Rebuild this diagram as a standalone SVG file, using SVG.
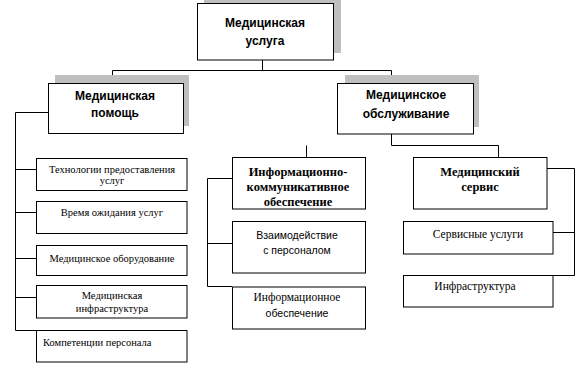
<svg xmlns="http://www.w3.org/2000/svg" width="581" height="380" viewBox="0 0 581 380">
<style>
.box{fill:#fff;stroke:#000;stroke-width:1}
.sh{fill:#bfbfbf}
.ln{fill:none;stroke:#000;stroke-width:1}
.hb{font-family:"Liberation Sans",Arial,sans-serif;font-weight:bold;font-size:12px;text-anchor:middle;dominant-baseline:central}
.sb{font-family:"Liberation Serif","DejaVu Serif",serif;font-weight:bold;font-size:12.5px;text-anchor:middle;dominant-baseline:central}
.s{font-family:"Liberation Serif","DejaVu Serif",serif;font-size:10.5px;text-anchor:middle;dominant-baseline:central}
.st{font-family:"Liberation Serif","DejaVu Serif",serif;font-size:10.5px;text-anchor:start;dominant-baseline:central}
.s11{font-family:"Liberation Serif","DejaVu Serif",serif;font-size:11.5px;text-anchor:middle;dominant-baseline:central}
.a{font-family:"Liberation Sans",Arial,sans-serif;font-size:10.5px;text-anchor:middle;dominant-baseline:central}
</style>
<rect width="581" height="380" fill="#fff"/>
<g id="connectors">
<path class="ln" d="M262.5,60 V70.5 M112.5,83 V70.5 H391.5 V83 M391.5,134 V145.5 H498.5 V157 M306.5,145.5 V157"/>
<path class="ln" d="M48,112.5 H15.5 V330.5 H36 M15.5,169.5 H36 M15.5,212.5 H36 M15.5,258.5 H36 M15.5,297.5 H36"/>
<path class="ln" d="M232,178.5 H207.5 V286.5 H232 M207.5,243.5 H232"/>
<path class="ln" d="M547,168.5 H574.5 V275.5 H553 M553,232.5 H574.5"/>
</g>
<g id="n-top">
<rect class="sh" x="204" y="-4" width="137" height="57"/>
<rect class="box" x="197.5" y="3.5" width="136" height="56.5"/>
<text class="hb" x="265" y="23">Медицинская</text>
<text class="hb" x="265" y="41">услуга</text>
</g>
<g id="n-help">
<rect class="sh" x="55" y="75" width="134" height="51"/>
<rect class="box" x="48.5" y="83.5" width="135" height="50"/>
<text class="hb" x="115" y="96">Медицинская</text>
<text class="hb" x="115" y="113">помощь</text>
</g>
<g id="n-serv">
<rect class="sh" x="345" y="75" width="134" height="52"/>
<rect class="box" x="337.5" y="83.5" width="136" height="50.5"/>
<text class="hb" x="406" y="95">Медицинское</text>
<text class="hb" x="406" y="114">обслуживание</text>
</g>
<g id="n-tech">
<rect class="box" x="36.5" y="158.5" width="150.5" height="32"/>
<text class="s" x="112" y="169">Технологии предоставления</text>
<text class="s" x="112" y="180">услуг</text>
</g>
<g id="n-time">
<rect class="box" x="36.5" y="201.5" width="150.5" height="32"/>
<text class="s" x="112" y="212">Время ожидания услуг</text>
</g>
<g id="n-equip">
<rect class="box" x="36.5" y="245.5" width="150.5" height="30"/>
<text class="s" x="112" y="258">Медицинское оборудование</text>
</g>
<g id="n-infra">
<rect class="box" x="36.5" y="285.5" width="150.5" height="32.5"/>
<text class="s" x="112" y="295">Медицинская</text>
<text class="s" x="112" y="308">инфраструктура</text>
</g>
<g id="n-comp">
<rect class="box" x="36.5" y="330.5" width="150.5" height="31.5"/>
<text class="st" x="43" y="342">Компетенции персонала</text>
</g>
<g id="n-ic">
<rect class="box" x="232.5" y="157.5" width="133" height="51.5"/>
<text class="sb" x="298" y="172">Информационно-</text>
<text class="sb" x="298" y="187">коммуникативное</text>
<text class="sb" x="298" y="202">обеспечение</text>
</g>
<g id="n-inter">
<rect class="box" x="232.5" y="221.5" width="133" height="51.5"/>
<text class="a" x="297" y="235">Взаимодействие</text>
<text class="a" x="297" y="250">с персоналом</text>
</g>
<g id="n-info">
<rect class="box" x="232.5" y="287" width="133" height="42"/>
<text class="s11" x="297" y="297">Информационное</text>
<text class="a" x="297" y="313">обеспечение</text>
</g>
<g id="n-ms">
<rect class="box" x="413.5" y="157.5" width="133.5" height="51.5"/>
<text class="sb" x="480" y="172">Медицинский</text>
<text class="sb" x="480" y="187">сервис</text>
</g>
<g id="n-su">
<rect class="box" x="403.5" y="221.5" width="149.5" height="32.5"/>
<text class="s11" x="478" y="234">Сервисные услуги</text>
</g>
<g id="n-inf">
<rect class="box" x="403.5" y="275.5" width="149.5" height="31.5"/>
<text class="s11" x="475" y="286">Инфраструктура</text>
</g>
</svg>
